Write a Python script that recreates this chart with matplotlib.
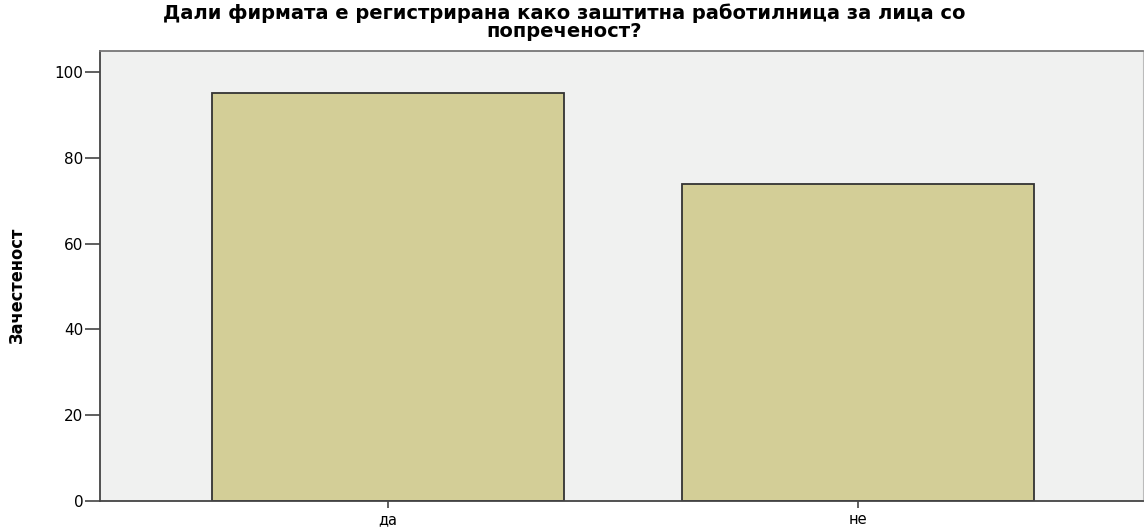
import matplotlib
matplotlib.use('Agg')
import matplotlib.pyplot as plt

# data
categories = ['да', 'не']
counts = [95, 74]
y_ticks = [0, 20, 40, 60, 80, 100]

title = 'Дали фирмата е регистрирана како заштитна работилница за лица со\nпопреченост?'
ylabel = 'Зачестеност'

fig = plt.figure(figsize=(11.44, 5.28), dpi=100)
ax = fig.add_axes([100 / 1144, 1 - 501 / 528, 1043 / 1144, 450 / 528])
ax.set_facecolor('#f0f1f0')

x = list(range(len(categories)))
ax.bar(x, counts, width=0.75, color='#d3ce97', edgecolor='#333333', linewidth=1.3, zorder=2)

ax.set_xlim(-0.613, 1.606)
ax.set_ylim(0, 104.9)
ax.set_yticks(y_ticks)
ax.set_xticks(x)
ax.set_xticklabels(categories)

for s in ['left', 'bottom']:
    ax.spines[s].set_color('#444444')
    ax.spines[s].set_linewidth(1.3)
ax.spines['top'].set_color('#777777')
ax.spines['top'].set_linewidth(1.3)
ax.spines['right'].set_color('#bbbbbb')

ax.tick_params(axis='y', length=10.5, width=1.2, color='#444444', labelsize=11, pad=1.5)
ax.tick_params(axis='x', length=5, width=1.2, color='#444444', labelsize=10.5, pad=3)

fig.text(17 / 1144, 1 - 285 / 528, ylabel, rotation=90, ha='center', va='center',
         fontsize=13, fontweight='bold', fontstretch='condensed',
         family=['Liberation Sans Narrow', 'DejaVu Sans'])
fig.text(0.493, 1 - 3 / 528, title, ha='center', va='top', fontsize=14,
         fontweight='bold', linespacing=0.98, family='DejaVu Sans')

fig.savefig('out.png', dpi=100)
